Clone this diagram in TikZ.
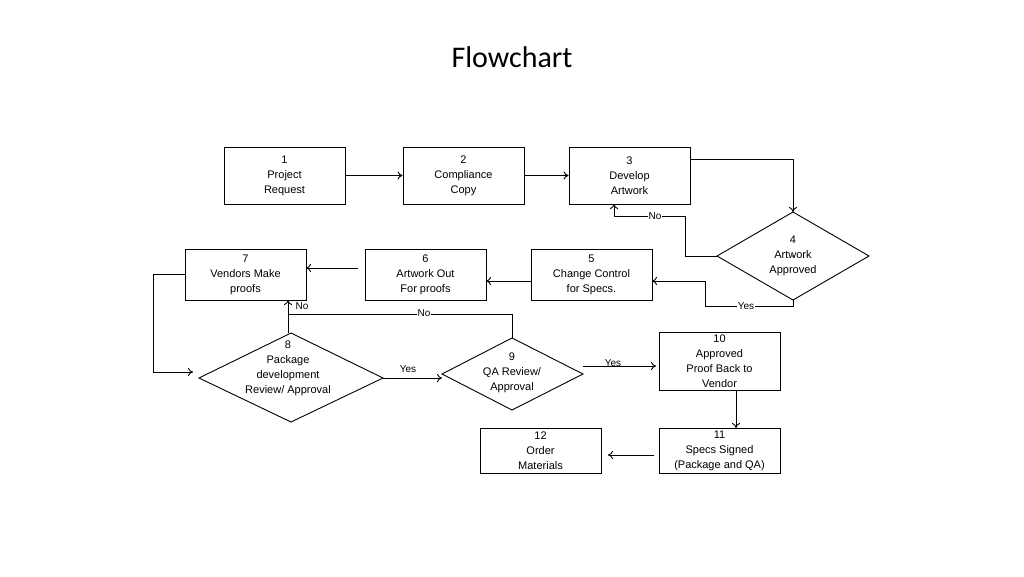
\documentclass[tikz,border=0pt]{standalone}
\usepackage{fontspec}
\setmainfont{Liberation Sans}
\newfontfamily\titlefont{Carlito}
\usetikzlibrary{shapes.geometric,arrows.meta}
\begin{document}
\begin{tikzpicture}[x=1pt,y=-1pt,
  box/.style={draw,line width=0.9pt,minimum width=121pt,minimum height=57pt,align=center,font=\fontsize{11}{15}\selectfont,inner sep=0pt},
  dia/.style={draw,line width=0.9pt,diamond,align=center,font=\fontsize{11}{15}\selectfont,inner sep=0pt},
  con/.style={line width=0.9pt,-{To[length=5pt,width=8pt]}},
  lab/.style={fill=white,font=\fontsize{10}{12}\selectfont,inner sep=1pt}]
\useasboundingbox (0,0) rectangle (1024,576);
\node[font=\titlefont\fontsize{30}{34}\selectfont] (t) at (512,57) {Flowchart};
\node[box] (n1) at (284.5,175.5) {1\\Project\\Request};
\node[box] (n2) at (463.5,175.5) {2\\Compliance\\Copy};
\node[box] (n3) at (629.5,175.5) {3\\Develop\\Artwork};
\node[dia,minimum width=0pt] (n4) at (793,256) {};
\draw[line width=0.9pt] (717,256) -- (793,212) -- (869,256) -- (793,300) -- cycle;
\node[align=center,font=\fontsize{11}{15}\selectfont] at (793,256) {4\\Artwork\\Approved};
\coordinate (n4l) at (717,256); \coordinate (n4t) at (793,212); \coordinate (n4b) at (793,300);
\node[box,minimum height=51pt] (n5) at (591.5,274.5) {5\\Change Control\\ for  Specs.};
\node[box,minimum height=51pt] (n6) at (425.5,274.5) {6\\Artwork Out\\For proofs};
\node[box,minimum height=51pt] (n7) at (245.5,274.5) {7\\Vendors Make\\proofs};
\draw[line width=0.9pt] (199,378) -- (291,333) -- (383,378) -- (291,422) -- cycle;
\node[align=center,font=\fontsize{11}{15}\selectfont] (n8) at (288,368) {8\\Package\\development\\Review/ Approval};
\coordinate (n8l) at (199,378); \coordinate (n8r) at (383,378); \coordinate (n8t) at (288,333);
\draw[line width=0.9pt] (442,374) -- (512,338) -- (583,374) -- (512,410) -- cycle;
\node[align=center,font=\fontsize{11}{15}\selectfont] (n9) at (512,373) {9\\QA Review/\\Approval};
\coordinate (n9l) at (442,378); \coordinate (n9r) at (583,366); \coordinate (n9t) at (512,338);
\node[box,minimum height=58pt] (n10) at (719.5,361) {10\\Approved\\Proof Back to\\Vendor};
\node[box,minimum height=45pt] (n11) at (719.5,450.5) {11\\Specs Signed\\(Package and QA)};
\node[box,minimum height=45pt] (n12) at (540.5,450.5) {12\\Order\\Materials};
\draw[con] (n1.east) -- (n2.west);
\draw[con] (n2.east) -- (n3.west);
\draw[con] (690,159) -- (793,159) -- (n4t);
\draw[con] (n4l) -- (685,256) -- (685,216) -- (614,216) -- (614,204);
\node[lab] at (655,216) {No};
\draw[con] (n4b) -- (793,306) -- (705,306) -- (705,281) -- (652,281);
\node[lab] at (746,306) {Yes};
\draw[con] (531,281) -- (486,281);
\draw[con] (358,268) -- (306,268);
\draw[con] (185,274) -- (153,274) -- (153,372) -- (193,372);
\draw[con] (n8r) -- (n9l);
\node[font=\fontsize{10}{12}\selectfont] at (408,369) {Yes};
\draw[line width=0.9pt] (n9t) -- (512,314) -- (288,314);
\node[lab] at (424,313) {No};
\draw[con] (n8t) -- (288,300);
\node[font=\fontsize{10}{12}\selectfont] at (302,306) {No};
\draw[con] (n9r) -- (656,366);
\node[font=\fontsize{10}{12}\selectfont] at (613,363) {Yes};
\draw[con] (736,390) -- (736,428);
\draw[con] (654,455) -- (608,455);
\end{tikzpicture}
\end{document}
